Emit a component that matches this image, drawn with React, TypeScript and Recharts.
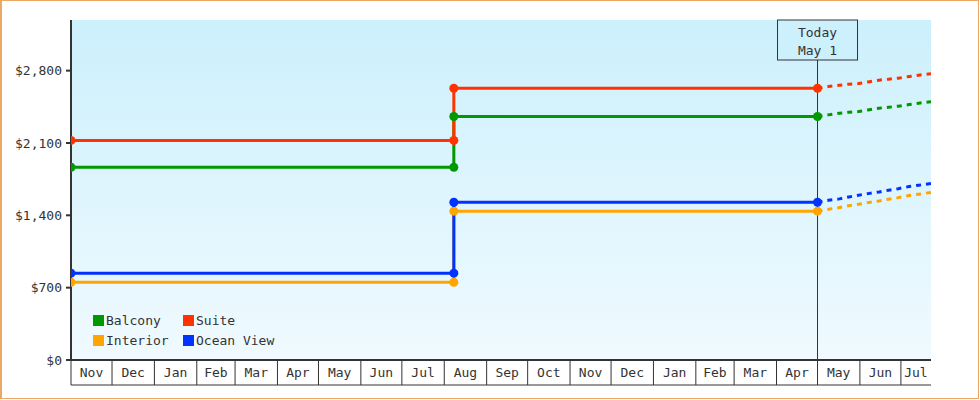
import React from "react";
import {
  LineChart,
  Line,
  XAxis,
  YAxis,
  CartesianGrid,
  ReferenceLine,
  Legend,
} from "recharts";

// ---- categories (calendar months shown on the x axis) ----
const months = ["Nov", "Dec", "Jan", "Feb", "Mar", "Apr", "May", "Jun", "Jul", "Aug", "Sep", "Oct", "Nov", "Dec", "Jan", "Feb", "Mar", "Apr", "May", "Jun", "Jul"];
const monthDays = [30, 31, 31, 28, 31, 30, 31, 30, 31, 31, 30, 31, 30, 31, 31, 28, 31, 30, 31, 30, 22];
const todayDay = 546; // May 1
const todayLabel = ["Today", "May 1"];

// ---- y ticks ----
const yTicks = [0, 700, 1400, 2100, 2800];
const yMax = 3290;

// ---- historical prices (day offset from first Nov 1) ----
const histDays = [0, 280, 280, 546];
const balconyHist = [1865, 1865, 2356, 2356];
const suiteHist = [2125, 2125, 2630, 2630];
const interiorHist = [752, 752, 1440, 1440];
const oceanHist = [840, 840, 1527, 1527];

// ---- projected prices ----
const projDays = [546, 554, 562, 569, 576, 583, 591, 598, 605, 613, 620, 629];
const balconyProj = [2356, 2372, 2388, 2398, 2404, 2420, 2437, 2446, 2456, 2472, 2485, 2500];
const suiteProj = [2630, 2646, 2659, 2669, 2675, 2691, 2708, 2717, 2727, 2743, 2756, 2770];
const interiorProj = [1440, 1459, 1475, 1494, 1507, 1523, 1539, 1556, 1571, 1591, 1604, 1622];
const oceanProj = [1527, 1546, 1559, 1578, 1595, 1610, 1626, 1643, 1658, 1678, 1691, 1709];

const seriesNames = ["Balcony", "Suite", "Interior", "Ocean View"];
const seriesColors = ["#009900", "#ff3300", "#ffa500", "#0033ff"];

const FONT = "'DejaVu Sans Mono', monospace";
const INK = "#333";

const monthStarts: number[] = [];
const monthMids: number[] = [];
{
  let acc = 0;
  monthDays.forEach((d) => {
    monthStarts.push(acc);
    monthMids.push(acc + d / 2);
    acc += d;
  });
}
const endDay = monthStarts[monthStarts.length - 1] + monthDays[monthDays.length - 1];
const startSet = new Set(monthStarts);
const xTicks = [...monthStarts, ...monthMids];

const toData = (days: number[], vals: number[]) => days.map((d, i) => ({ day: d, v: vals[i] }));

const hist = [balconyHist, suiteHist, interiorHist, oceanHist].map((v) => toData(histDays, v));
const proj = [balconyProj, suiteProj, interiorProj, oceanProj].map((v) => toData(projDays, v));

const MonthTick = (props: any) => {
  const { x, y, payload } = props;
  const v = payload.value;
  if (startSet.has(v)) {
    return <line x1={x} x2={x} y1={y} y2={y + 25} stroke={INK} strokeWidth={1} />;
  }
  const idx = monthMids.indexOf(v);
  return (
    <text x={x} y={y + 17} textAnchor="middle" fontFamily={FONT} fontSize={13} fill={INK}>
      {months[idx]}
    </text>
  );
};

const TodayBox = (props: any) => {
  const vb = props.viewBox || {};
  const cx = vb.x;
  const top = vb.y;
  return (
    <g>
      <rect x={cx - 40} y={top} width={80} height={40} fill="#ccf0fc" stroke={INK} strokeWidth={1} />
      <text x={cx} y={top + 17} textAnchor="middle" fontFamily={FONT} fontSize={13} fill={INK}>
        {todayLabel[0]}
      </text>
      <text x={cx} y={top + 35} textAnchor="middle" fontFamily={FONT} fontSize={13} fill={INK}>
        {todayLabel[1]}
      </text>
    </g>
  );
};

const LegendBox = (props: any) => {
  const payload = (props.payload || []).filter((p: any) => seriesNames.includes(p.value));
  payload.sort((a: any, b: any) => seriesNames.indexOf(a.value) - seriesNames.indexOf(b.value));
  return (
    <div style={{ display: "grid", gridTemplateColumns: "90px 110px", fontFamily: FONT, fontSize: 13, color: INK }}>
      {payload.map((p: any) => (
        <div key={p.value} style={{ display: "flex", alignItems: "center", height: 20 }}>
          <span style={{ display: "inline-block", width: 11, height: 11, background: p.color, marginRight: 2 }} />
          <span>{p.value}</span>
        </div>
      ))}
    </div>
  );
};

export default function App() {
  return (
    <div style={{ position: "absolute", left: 0, top: 0, width: 980, height: 400, background: "#fff" }}>
      <div
        style={{
          position: "absolute",
          left: 0,
          top: 0,
          width: 979,
          height: 399,
          boxSizing: "border-box",
          border: "1px solid #eaa862",
          borderLeftWidth: 2,
        }}
      />
      <div style={{ position: "absolute", left: 0, top: 0 }}>
        <LineChart width={980} height={400} margin={{ top: 20, right: 49, bottom: 14, left: 0 }}>
          <defs>
            <linearGradient id="bgGrad" x1="0" y1="0" x2="0" y2="1">
              <stop offset="0%" stopColor="#ccf0fc" />
              <stop offset="100%" stopColor="#f0faff" />
            </linearGradient>
          </defs>
          <CartesianGrid fill="url(#bgGrad)" stroke="none" horizontal={false} vertical={false} />
          <XAxis
            type="number"
            dataKey="day"
            domain={[0, endDay]}
            allowDataOverflow
            ticks={xTicks}
            interval={0}
            tick={<MonthTick />}
            tickLine={false}
            tickSize={0}
            tickMargin={0}
            height={25}
            axisLine={{ stroke: INK, strokeWidth: 2 }}
          />
          <XAxis
            xAxisId="base"
            type="number"
            dataKey="day"
            domain={[0, endDay]}
            allowDataOverflow
            tick={false}
            tickLine={false}
            height={1}
            axisLine={{ stroke: INK, strokeWidth: 1 }}
          />
          <YAxis
            type="number"
            domain={[0, yMax]}
            ticks={yTicks}
            width={71}
            tickSize={5}
            tickMargin={4}
            tickLine={{ stroke: INK, strokeWidth: 2 }}
            axisLine={{ stroke: INK, strokeWidth: 2 }}
            tick={{ fontFamily: FONT, fontSize: 13, fill: INK }}
            tickFormatter={(v: number) => "$" + v.toLocaleString("en-US")}
          />
          <ReferenceLine x={todayDay} stroke={INK} strokeWidth={1} label={<TodayBox />} />
          <Legend
            layout="vertical"
            align="center"
            verticalAlign="middle"
            content={<LegendBox />}
            wrapperStyle={{ position: "absolute", left: 93, top: 310, width: 220 }}
          />
          {[2, 3, 0, 1].map((i) => (
            <Line
              key={"p" + i}
              data={proj[i]}
              dataKey="v"
              type="linear"
              stroke={seriesColors[i]}
              strokeWidth={3}
              strokeDasharray="5 5"
              dot={false}
              activeDot={false}
              legendType="none"
              isAnimationActive={false}
            />
          ))}
          {[2, 3, 0, 1].map((i) => (
            <Line
              key={"h" + i}
              data={hist[i]}
              dataKey="v"
              name={seriesNames[i]}
              type="linear"
              stroke={seriesColors[i]}
              strokeWidth={3}
              dot={{ r: 4.5, fill: seriesColors[i], stroke: "none" }}
              activeDot={false}
              isAnimationActive={false}
            />
          ))}
        </LineChart>
      </div>
    </div>
  );
}
